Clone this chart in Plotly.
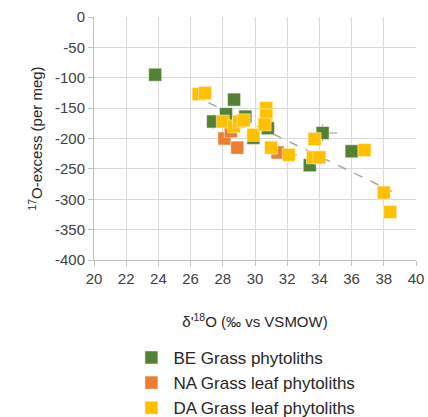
import numpy as np
import plotly.graph_objects as go

# BE grass phytoliths
be_x = [23.8, 27.4, 28.2, 28.7, 29.4, 29.9, 30.8, 33.4, 34.2, 36.0]
be_y = [-95, -172, -160, -136, -164, -199, -183, -244, -191, -221]
be_xerr = [0, 0, 0, 0, 0, 0, 0, 0, 0.9, 0]
be_yerr = [0, 12, 0, 0, 8, 0, 0, 0, 14, 9]

# NA grass leaf phytoliths
na_x = [28.1, 28.5, 28.9, 31.4]
na_y = [-200, -188, -215, -223]

# DA grass leaf phytoliths
da_x = [26.5, 26.9, 28.0, 28.7, 29.0, 29.3, 29.9, 30.7, 30.7, 30.6,
        31.0, 32.1, 33.7, 33.6, 34.0, 36.8, 38.0, 38.4]
da_y = [-127, -125, -172, -180, -172, -170, -194, -150, -162, -177,
        -215, -227, -201, -231, -231, -219, -289, -321]
da_xerr = [0] * 11 + [0.5] + [0] * 6
da_yerr = [0] * 11 + [8] + [0] * 6

# axis ticks
x_ticks = list(range(20, 41, 2))
y_ticks = list(range(-400, 1, 50))
y_ticklabels = [str(v) for v in y_ticks]

series_names = ["BE Grass phytoliths", "NA Grass leaf phytoliths", "DA Grass leaf phytoliths"]
colors = ["#548235", "#ED7D31", "#FFC000"]

err_style = dict(color="#A6A6A6", thickness=1.2, width=0)
marker_base = dict(symbol="square", size=13, line=dict(width=0.8, color="rgba(255,255,255,0.6)"))

fig = go.Figure()

# linear trend of the DA series
coef = np.polyfit(da_x, da_y, 1)
tx = np.array([min(da_x) - 0.4, max(da_x) + 0.1])
fig.add_trace(go.Scatter(
    x=tx, y=np.polyval(coef, tx), mode="lines",
    line=dict(color="#A6A6A6", width=1.5, dash="dash"),
    showlegend=False, hoverinfo="skip"))

fig.add_trace(go.Scatter(
    x=be_x, y=be_y, mode="markers", name=series_names[0],
    marker=dict(color=colors[0], **marker_base),
    error_x=dict(type="data", array=be_xerr, **err_style),
    error_y=dict(type="data", array=be_yerr, **err_style)))
fig.add_trace(go.Scatter(
    x=na_x, y=na_y, mode="markers", name=series_names[1],
    marker=dict(color=colors[1], **marker_base)))
fig.add_trace(go.Scatter(
    x=da_x, y=da_y, mode="markers", name=series_names[2],
    marker=dict(color=colors[2], **marker_base),
    error_x=dict(type="data", array=da_xerr, **err_style),
    error_y=dict(type="data", array=da_yerr, **err_style)))

base_family = "Liberation Sans, Arial, sans-serif"
tick_font = dict(family=base_family, size=15, color="#404040")
title_font = dict(family=base_family, size=15, color="#262626")

fig.update_layout(
    width=428, height=417,
    margin=dict(l=94, r=12, t=17, b=157, autoexpand=False),
    plot_bgcolor="white", paper_bgcolor="white",
    font=tick_font,
    showlegend=True,
    legend=dict(
        x=0.11, y=-0.329, xanchor="left", yanchor="top",
        orientation="v", font=dict(family=base_family, size=17, color="#262626"),
        tracegroupgap=0, itemwidth=34, bgcolor="rgba(0,0,0,0)"),
    xaxis=dict(
        range=[20, 40], tickvals=x_ticks, showgrid=True, gridcolor="#D9D9D9", gridwidth=1,
        showline=True, linecolor="#BFBFBF", ticks="outside", ticklen=5, tickcolor="#BFBFBF",
        zeroline=False, tickfont=tick_font, automargin=False,
        title=dict(text="δ'<sup>18</sup>O (‰ vs VSMOW)", font=title_font, standoff=30)),
    yaxis=dict(
        range=[-400, 0], tickvals=y_ticks, ticktext=y_ticklabels,
        showgrid=True, gridcolor="#D9D9D9", gridwidth=1,
        showline=True, linecolor="#BFBFBF", ticks="outside", ticklen=5, tickcolor="#BFBFBF",
        zeroline=False, tickfont=tick_font, automargin=False,
        title=dict(text="<sup>17</sup>O-excess (per meg)", font=title_font, standoff=8)),
)

fig.write_html("out.html")
